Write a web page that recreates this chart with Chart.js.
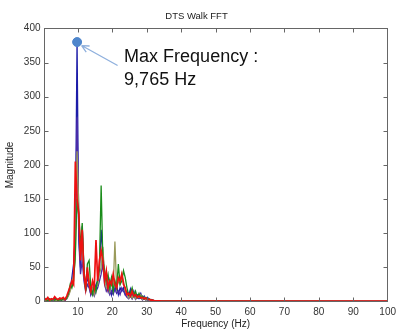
<!DOCTYPE html>
<html><head><meta charset="utf-8">
<script src="https://cdn.jsdelivr.net/npm/chart.js@4"></script>
<style>html,body{margin:0;padding:0;background:#fff}#wrap{width:401px;height:333px}</style>
</head><body><div id="wrap"><canvas id="c" width="401" height="333"></canvas></div>
<script>
const freqs = [0.25,0.75,1.25,1.75,2.25,2.75,3.25,3.75,4.25,4.75,5.25,5.75,6.25,6.75,
  7.25,7.75,8.25,8.75,9.25,9.75,10.25,10.75,11.25,11.75,12.25,12.75,13.25,13.75,14.25,14.75,
  15.25,15.75,16.25,16.75,17.25,17.75,18.25,18.75,19.25,19.75,20.25,20.75,21.25,21.75,22.25,22.75,
  23.25,23.75,24.25,24.75,25.25,25.75,26.25,26.75,27.25,27.75,28.25,28.75,29.25,29.75,
  30.25,30.75,31.25,31.75,32.25,32.75,33.25,33.75,34.25,34.75,40,100];
const redMag = [5,3,6,2,4,3,7,4,3,5,4,6,3,8,
  15,22,30,25,205,150,130,60,105,40,20,50,25,15,30,20,90,30,60,75,60,30,45,20,30,25,40,25,20,35,30,40,25,20,10,12,
  8,15,8,10,6,8,5,6,4,5,3,3,2,2,1,1,1,1,0.5,0.5,0.6,0.6];
const blueMag = [3,2,4,1,3,2,5,3,2,4,3,5,2,6,
  10,18,35,55,100,380,95,50,110,45,20,35,25,10,20,15,25,30,45,105,70,40,25,15,30,10,20,15,25,10,20,15,20,10,15,8,
  18,6,15,5,10,8,12,4,8,3,6,2,3,2,1,1,1,0.5,0.5,0.5,0.5,0.3];
const purpleMag = [2,1,3,2,1,3,2,2,3,1,2,3,2,4,
  10,20,30,45,100,270,90,40,60,30,15,25,20,10,15,8,15,20,30,40,55,25,15,20,10,15,10,20,12,15,10,20,15,10,6,4,
  8,4,10,3,6,4,6,2,4,2,3,1,2,1,1,0.5,0.5,0.5,0.5,0.5,0.4,0.2];
const oliveMag = [1,2,3,1,2,4,2,1,3,2,4,2,3,4,
  8,15,25,40,60,220,140,70,90,40,20,45,30,15,20,10,20,25,40,50,80,35,20,25,15,30,20,88,20,30,25,40,30,15,10,5,
  10,5,12,4,8,6,10,3,6,2,4,2,2,1,1,1,0.5,0.5,0.5,0.5,0.4,0.2];
const greenMag = [2,3,1,4,2,3,2,4,1,3,2,4,3,5,
  12,25,20,30,70,150,125,80,115,50,15,55,60,20,10,25,15,35,50,170,60,45,30,40,20,35,15,30,20,55,25,30,45,35,20,10,
  12,20,8,15,6,12,5,8,4,6,3,4,2,2,1,1,1,0.5,0.5,0.5,0.5,0.3];
const maxFreq = 9.765, maxMag = 380;
const annotationLines = ["Max Frequency :", "9,765 Hz"];
const titleText = "DTS Walk FFT";
const xTitle = "Frequency (Hz)";
const yTitle = "Magnitude";

const FONT = '"Liberation Sans", Arial, sans-serif';
const pts = (m) => freqs.map((f, i) => ({x: f, y: m[i]}));
const line = (label, m, color, w) => ({label, data: pts(m), borderColor: color, backgroundColor: color,
  borderWidth: w, pointRadius: 0, tension: 0, fill: false});

const boxPlugin = {
  id: 'boxTicks',
  afterDraw(chart) {
    const {ctx, chartArea: a, scales: {x, y}} = chart;
    ctx.save();
    ctx.strokeStyle = '#666'; ctx.lineWidth = 1;
    const L = Math.round(a.left) + 0.5, R = Math.round(a.right) - 0.5,
          T = Math.round(a.top) + 0.5, B = Math.round(a.bottom) - 0.5;
    ctx.strokeRect(L, T, R - L, B - T);
    ctx.beginPath();
    x.ticks.forEach(t => {
      if (t.value <= x.min || t.value >= x.max) return;
      const px = Math.round(x.getPixelForValue(t.value)) + 0.5;
      ctx.moveTo(px, B); ctx.lineTo(px, B - 4);
      ctx.moveTo(px, T); ctx.lineTo(px, T + 4);
    });
    y.ticks.forEach(t => {
      if (t.value <= y.min || t.value >= y.max) return;
      const py = Math.round(y.getPixelForValue(t.value)) + 0.5;
      ctx.moveTo(L, py); ctx.lineTo(L + 4, py);
      ctx.moveTo(R, py); ctx.lineTo(R - 4, py);
    });
    ctx.stroke();
    const px = x.getPixelForValue(maxFreq), py = y.getPixelForValue(maxMag);
    const hx = px + 4.5, hy = py + 3.5, tx = px + 40.5, ty = py + 23.5;
    ctx.strokeStyle = '#8fb0dd'; ctx.lineWidth = 1.3;
    ctx.beginPath(); ctx.moveTo(tx, ty); ctx.lineTo(hx, hy);
    const ang = Math.atan2(hy - ty, hx - tx);
    ctx.moveTo(hx, hy); ctx.lineTo(hx - 8 * Math.cos(ang - 0.45), hy - 8 * Math.sin(ang - 0.45));
    ctx.moveTo(hx, hy); ctx.lineTo(hx - 8 * Math.cos(ang + 0.45), hy - 8 * Math.sin(ang + 0.45));
    ctx.stroke();
    ctx.fillStyle = '#111';
    ctx.font = '18px ' + FONT;
    ctx.textBaseline = 'alphabetic'; ctx.textAlign = 'left';
    ctx.fillText(annotationLines[0], px + 47, py + 19.5);
    ctx.fillText(annotationLines[1], px + 47, py + 42.5);
    ctx.restore();
  }
};

new Chart(document.getElementById('c'), {
  type: 'line',
  data: {
    datasets: [
      {label: 'Max', data: [{x: maxFreq, y: maxMag}], showLine: false, pointRadius: 4.5,
       backgroundColor: '#4f86cc', borderColor: '#4f86cc'},
      line('red', redMag, '#ee1111', 1.7),
      line('green', greenMag, '#1a8c1a', 1.3),
      line('olive', oliveMag, '#9a9a5a', 1.3),
      line('purple', purpleMag, '#4a2aa8', 1.3),
      line('blue', blueMag, '#1c1ca8', 1.3)
    ]
  },
  options: {
    responsive: false, animation: false,
    layout: {padding: {top: 0, right: 8, left: 0, bottom: 0}},
    plugins: {
      legend: {display: false}, tooltip: {enabled: false},
      title: {display: true, text: titleText, color: '#222',
        font: {family: FONT, size: 9.5, weight: 'normal'},
        padding: {top: 11, bottom: 6}}
    },
    scales: {
      x: {type: 'linear', min: 0, max: 100,
        afterFit(s) { s.height = 31.5; },
        grid: {display: false, drawTicks: false}, border: {display: false},
        ticks: {stepSize: 10, padding: 5, color: '#333', maxRotation: 0,
          font: {family: FONT, size: 10},
          callback: v => v === 0 ? '' : v},
        title: {display: true, text: xTitle, color: '#222', padding: {top: 0, bottom: 3},
          font: {family: FONT, size: 10}}
      },
      y: {type: 'linear', min: 0, max: 400,
        afterFit(s) { s.width = 43.5; },
        grid: {display: false, drawTicks: false}, border: {display: false},
        ticks: {stepSize: 50, padding: 3, color: '#333',
          font: {family: FONT, size: 10}},
        title: {display: true, text: yTitle, color: '#222', padding: {top: 4, bottom: 0},
          font: {family: FONT, size: 10}}
      }
    }
  },
  plugins: [boxPlugin]
});
</script></body></html>
